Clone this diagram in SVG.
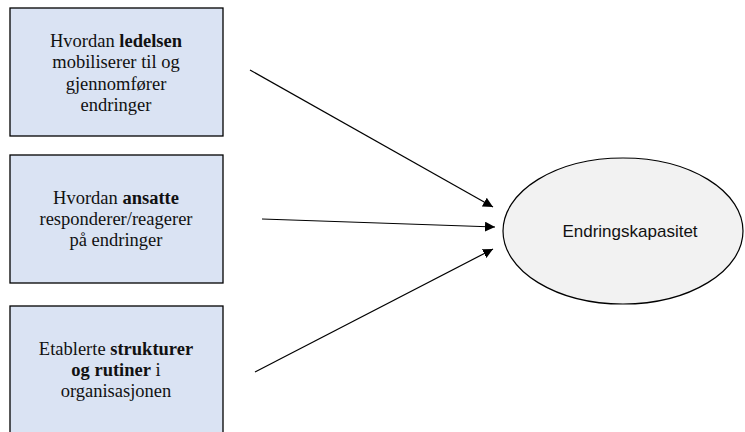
<svg xmlns="http://www.w3.org/2000/svg" width="745" height="432" viewBox="0 0 745 432">
<style>
.box{fill:#dae3f3;stroke:#000;stroke-width:1.3}
text.t{font-family:'Liberation Serif','Times New Roman','DejaVu Serif',serif;font-size:18.5px;fill:#111;text-anchor:middle}
.b{font-weight:bold}
.c{stroke:#000;stroke-width:1.2;fill:none;marker-end:url(#ah)}
</style>
<defs>
<marker id="ah" viewBox="0 0 10 10" refX="10" refY="5" markerWidth="10" markerHeight="10" markerUnits="userSpaceOnUse" orient="auto">
<path d="M0,0 L10,5 L0,10 z" fill="#000"/>
</marker>
</defs>
<rect width="745" height="432" fill="#fff"/>
<g id="n1">
<rect class="box" x="10" y="8" width="213" height="128"/>
<text class="t" x="116" y="47">Hvordan <tspan class="b">ledelsen</tspan></text>
<text class="t" x="116" y="68">mobiliserer til og</text>
<text class="t" x="116" y="90">gjennomfører</text>
<text class="t" x="116" y="111">endringer</text>
</g>
<g id="n2">
<rect class="box" x="10" y="155" width="213" height="128"/>
<text class="t" x="116" y="204">Hvordan <tspan class="b">ansatte</tspan></text>
<text class="t" x="116" y="225">responderer/reagerer</text>
<text class="t" x="116" y="246">på endringer</text>
</g>
<g id="n3">
<rect class="box" x="10" y="306" width="213" height="140"/>
<text class="t" x="116" y="355">Etablerte <tspan class="b">strukturer</tspan></text>
<text class="t" x="116" y="376"><tspan class="b">og rutiner</tspan> i</text>
<text class="t" x="116" y="397">organisasjonen</text>
</g>
<g id="n4">
<ellipse cx="623" cy="231" rx="120" ry="73" fill="#f2f2f2" stroke="#000" stroke-width="1.2"/>
<text x="630" y="237" font-family="'Liberation Sans','DejaVu Sans',sans-serif" font-size="17" text-anchor="middle" fill="#111">Endringskapasitet</text>
</g>
<g id="connectors">
<line class="c" x1="250" y1="70" x2="493" y2="207"/>
<line class="c" x1="262" y1="219" x2="495" y2="227"/>
<line class="c" x1="255" y1="372" x2="493" y2="249"/>
</g>
</svg>
